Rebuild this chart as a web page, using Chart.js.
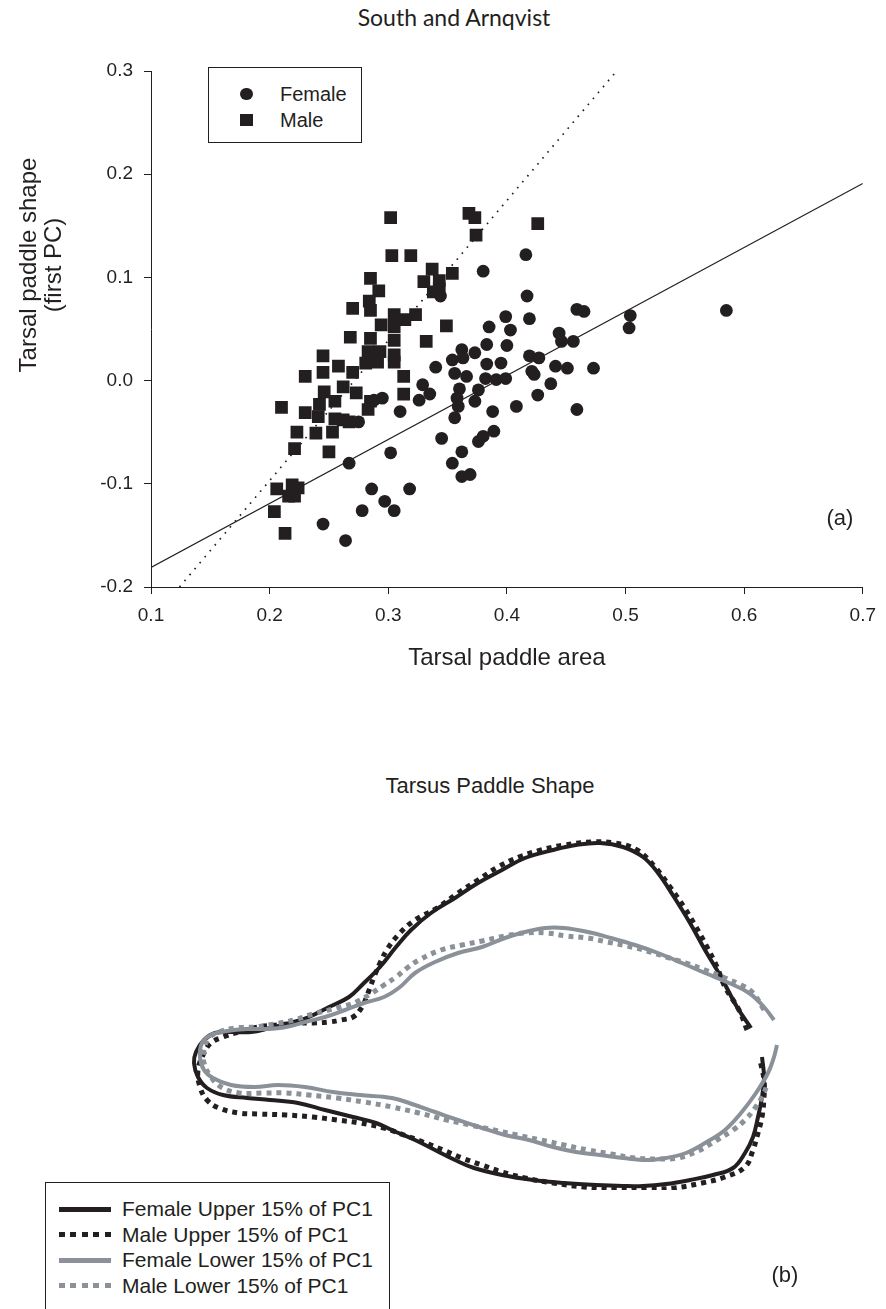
<!DOCTYPE html>
<html>
<head>
<meta charset="utf-8">
<script src="https://cdn.jsdelivr.net/npm/chart.js@4.4.1/dist/chart.umd.min.js"></script>
<style>
html,body{margin:0;padding:0;background:#ffffff;}
body{width:886px;height:1309px;position:relative;overflow:hidden;font-family:"Liberation Sans",Arial,sans-serif;color:#231f20;}
.abs{position:absolute;white-space:nowrap;}
canvas{position:absolute;left:0;}
#legA{position:absolute;left:208px;top:67px;width:154px;height:76px;border:1px solid #231f20;box-sizing:border-box;background:#fff;}
#legB{position:absolute;left:45px;top:1182px;width:345px;height:160px;border:1px solid #231f20;box-sizing:border-box;background:#fff;}
.txt{position:absolute;transform:translateY(-50%);white-space:nowrap;}
</style>
</head>
<body>
<div class="abs" id="header" style="left:304px;top:3px;width:300px;text-align:center;font-family:Lato,'Open Sans',sans-serif;font-size:23px;">South and Arnqvist</div>
<canvas id="c1" width="886" height="700" style="top:0px"></canvas>
<div class="abs" id="ytitle" style="left:-109px;top:240px;width:300px;height:50px;line-height:24.5px;text-align:center;font-size:24px;transform:rotate(-90deg);"></div>
<div id="legA"></div>
<div class="abs" id="labA" style="left:800px;top:505px;width:80px;text-align:center;font-size:22px;">(a)</div>
<div class="abs" id="titleB" style="left:290px;top:773px;width:400px;text-align:center;font-size:22px;">Tarsus Paddle Shape</div>
<canvas id="c2" width="886" height="609" style="top:700px"></canvas>
<div id="legB"></div>
<div class="abs" id="labB" style="left:745px;top:1262px;width:80px;text-align:center;font-size:22px;">(b)</div>
<script>
// ---------------- Panel (a) data ----------------
const femaleX = [0.380,0.344,0.416,0.385,0.399,0.362,0.383,0.373,0.354,0.363,0.383,0.395,0.340,0.356,0.366,0.382,0.391,0.399,0.376,0.360,0.329,0.335,0.326,0.358,0.359,0.373,0.388,0.295,0.288,0.310,0.356,0.275,0.345,0.389,0.380,0.376,0.362,0.354,0.302,0.267,0.362,0.369,0.286,0.318,0.297,0.278,0.305,0.245,0.264,0.417,0.459,0.465,0.419,0.504,0.503,0.403,0.444,0.446,0.456,0.400,0.419,0.427,0.441,0.451,0.473,0.421,0.423,0.437,0.426,0.408,0.459,0.585];
const femaleY = [0.106,0.082,0.122,0.052,0.062,0.030,0.035,0.027,0.020,0.022,0.016,0.017,0.013,0.007,0.004,0.002,0.001,0.002,-0.009,-0.008,-0.004,-0.013,-0.019,-0.017,-0.025,-0.020,-0.030,-0.017,-0.019,-0.030,-0.036,-0.040,-0.056,-0.049,-0.054,-0.059,-0.069,-0.080,-0.070,-0.080,-0.093,-0.091,-0.105,-0.105,-0.117,-0.126,-0.126,-0.139,-0.155,0.082,0.069,0.067,0.060,0.063,0.051,0.049,0.046,0.038,0.038,0.034,0.024,0.022,0.014,0.012,0.012,0.009,0.006,-0.003,-0.014,-0.025,-0.028,0.068];
const maleX = [0.302,0.368,0.373,0.374,0.426,0.303,0.319,0.337,0.354,0.285,0.330,0.343,0.292,0.338,0.343,0.284,0.285,0.270,0.305,0.323,0.314,0.294,0.349,0.305,0.268,0.285,0.305,0.332,0.283,0.293,0.305,0.291,0.281,0.305,0.258,0.245,0.270,0.313,0.262,0.273,0.313,0.255,0.283,0.255,0.262,0.267,0.253,0.250,0.230,0.245,0.210,0.230,0.242,0.246,0.241,0.285,0.223,0.239,0.221,0.206,0.219,0.224,0.216,0.221,0.204,0.213];
const maleY = [0.158,0.162,0.158,0.141,0.152,0.121,0.121,0.108,0.104,0.099,0.096,0.097,0.087,0.086,0.089,0.077,0.068,0.070,0.064,0.064,0.059,0.054,0.053,0.052,0.042,0.041,0.039,0.038,0.028,0.028,0.025,0.018,0.017,0.018,0.014,0.024,0.008,0.004,-0.006,-0.012,-0.013,-0.020,-0.028,-0.037,-0.038,-0.040,-0.050,-0.069,0.004,0.008,-0.026,-0.031,-0.023,-0.011,-0.035,-0.020,-0.050,-0.051,-0.066,-0.105,-0.101,-0.104,-0.112,-0.112,-0.127,-0.148];
const femaleFitX = [0.1, 0.7];
const femaleFitY = [-0.181, 0.191];
const maleFitX = [0.124, 0.4925];
const maleFitY = [-0.2, 0.3];
const xTickValues = [0.1,0.2,0.3,0.4,0.5,0.6,0.7];
const xTickLabels = ['0.1','0.2','0.3','0.4','0.5','0.6','0.7'];
const yTickValues = [-0.2,-0.1,0.0,0.1,0.2,0.3];
const yTickLabels = ['-0.2','-0.1','0.0','0.1','0.2','0.3'];
const seriesA = ['Female','Male'];
const xTitle = 'Tarsal paddle area';
const yTitle = ['Tarsal paddle shape','(first PC)'];

// ---------------- Panel (b) data (outline coordinates) ----------------
const femaleUpperX = [5.71,5.57,5.41,5.25,5.10,4.94,4.78,4.63,4.43,4.20,3.96,3.73,3.45,3.22,2.98,2.75,2.51,2.31,2.16,2.00,1.84,1.69,1.49,1.29,1.10,0.90,0.71,0.51,0.35,0.24,0.16,0.14,0.18,0.27,0.43,0.67,0.90,1.18,1.45,1.73,1.96,2.16,2.35,2.55,2.75,2.94,3.22,3.53,3.84,4.16,4.43,4.63,4.86,5.10,5.33,5.53,5.65,5.73,5.78,5.82,5.84,5.82];
const femaleUpperY = [1.62,1.83,2.13,2.40,2.67,2.93,3.17,3.33,3.43,3.47,3.45,3.40,3.32,3.20,3.07,2.92,2.77,2.60,2.43,2.23,2.07,1.93,1.83,1.73,1.67,1.62,1.58,1.58,1.57,1.50,1.38,1.27,1.13,1.02,0.95,0.92,0.90,0.87,0.80,0.73,0.67,0.58,0.50,0.40,0.30,0.22,0.15,0.10,0.07,0.05,0.04,0.04,0.06,0.10,0.15,0.22,0.37,0.53,0.73,0.93,1.13,1.33];
const maleUpperX = [5.67,5.59,5.45,5.37,5.27,5.16,5.04,4.90,4.75,4.57,4.35,4.12,3.84,3.61,3.39,3.18,2.98,2.78,2.57,2.35,2.20,2.08,2.00,1.94,1.88,1.82,1.73,1.61,1.49,1.33,1.18,0.98,0.78,0.59,0.43,0.31,0.24,0.18,0.20,0.27,0.39,0.59,0.78,1.06,1.33,1.57,1.80,2.04,2.24,2.43,2.63,2.82,3.02,3.22,3.45,3.73,4.04,4.35,4.67,4.94,5.22,5.45,5.65,5.73,5.78,5.82,5.84,5.84,5.80];
const maleUpperY = [1.60,1.80,2.03,2.23,2.43,2.63,2.83,3.03,3.23,3.40,3.47,3.48,3.45,3.40,3.33,3.23,3.10,2.97,2.82,2.70,2.57,2.42,2.27,2.13,1.97,1.83,1.73,1.70,1.68,1.67,1.67,1.65,1.63,1.58,1.53,1.47,1.37,1.20,1.03,0.90,0.82,0.77,0.76,0.75,0.73,0.70,0.67,0.62,0.55,0.48,0.40,0.32,0.25,0.18,0.12,0.07,0.03,0.01,0.01,0.02,0.07,0.13,0.23,0.40,0.57,0.73,0.93,1.10,1.30];
const femaleLowerX = [5.94,5.84,5.69,5.49,5.25,5.02,4.78,4.55,4.31,4.08,3.84,3.65,3.45,3.25,3.02,2.78,2.55,2.35,2.20,2.04,1.84,1.65,1.45,1.25,1.06,0.86,0.67,0.47,0.31,0.22,0.20,0.24,0.33,0.51,0.75,0.98,1.25,1.53,1.80,2.12,2.35,2.55,2.78,3.02,3.25,3.49,3.73,3.96,4.20,4.43,4.67,4.86,5.06,5.25,5.45,5.61,5.76,5.88,5.94,5.97];
const femaleLowerY = [1.70,1.83,1.97,2.07,2.17,2.27,2.37,2.45,2.52,2.58,2.62,2.62,2.58,2.52,2.43,2.37,2.28,2.17,2.03,1.93,1.87,1.80,1.73,1.68,1.63,1.61,1.61,1.59,1.55,1.47,1.33,1.20,1.12,1.05,1.03,1.05,1.03,0.98,0.95,0.92,0.85,0.78,0.70,0.62,0.55,0.50,0.43,0.38,0.35,0.32,0.30,0.32,0.37,0.47,0.60,0.77,0.97,1.17,1.33,1.45];
const maleLowerX = [5.84,5.73,5.61,5.45,5.25,5.06,4.86,4.67,4.47,4.27,4.08,3.86,3.67,3.45,3.25,3.02,2.82,2.61,2.39,2.27,2.16,2.04,1.92,1.76,1.57,1.33,1.14,0.94,0.75,0.55,0.39,0.29,0.24,0.24,0.31,0.41,0.59,0.82,1.06,1.29,1.57,1.84,2.12,2.39,2.67,2.90,3.14,3.37,3.61,3.84,4.08,4.31,4.55,4.78,4.98,5.18,5.37,5.53,5.65,5.75,5.82,5.88];
const maleLowerY = [1.80,1.97,2.05,2.12,2.20,2.27,2.33,2.39,2.44,2.48,2.52,2.54,2.57,2.57,2.54,2.49,2.45,2.40,2.30,2.22,2.13,2.05,1.97,1.88,1.82,1.76,1.70,1.66,1.63,1.62,1.58,1.52,1.40,1.27,1.13,1.03,0.97,0.97,0.97,0.95,0.92,0.88,0.83,0.77,0.70,0.65,0.60,0.55,0.50,0.45,0.40,0.36,0.32,0.31,0.32,0.39,0.50,0.60,0.70,0.82,0.93,1.07];
const seriesB = ['Female Upper 15% of PC1','Male Upper 15% of PC1','Female Lower 15% of PC1','Male Lower 15% of PC1'];

// ---------------- styling ----------------
const INK = '#231f20';
const GRAY = '#8a9198';
const FONT = '"Liberation Sans", Arial, sans-serif';
const toPts = (xs, ys) => xs.map((x, i) => ({x: x, y: ys[i]}));

document.getElementById('ytitle').innerHTML = yTitle.map(t => '<div>' + t + '</div>').join('');

// ---------------- Chart (a) ----------------
new Chart(document.getElementById('c1'), {
  type: 'scatter',
  data: {
    datasets: [
      {label: seriesA[0], data: toPts(femaleX, femaleY), pointStyle: 'circle', pointRadius: 6.4, pointHoverRadius: 6.4, backgroundColor: INK, borderWidth: 0, order: 1},
      {label: seriesA[1], data: toPts(maleX, maleY), pointStyle: 'rect', pointRadius: 9, pointHoverRadius: 9, backgroundColor: INK, borderWidth: 0, order: 1},
      {label: 'Female fit', data: toPts(femaleFitX, femaleFitY), showLine: true, pointRadius: 0, borderColor: INK, borderWidth: 1.3, order: 3},
      {label: 'Male fit', data: toPts(maleFitX, maleFitY), showLine: true, pointRadius: 0, borderColor: INK, borderWidth: 1.7, borderDash: [1.6, 6.2], order: 3}
    ]
  },
  options: {
    responsive: false, animation: false, devicePixelRatio: 1,
    layout: {padding: {left: 0, right: 15, top: 71, bottom: 0}},
    plugins: {legend: {display: false}, tooltip: {enabled: false}},
    scales: {
      x: {
        type: 'linear', min: 0.1, max: 0.7,
        afterBuildTicks: s => { s.ticks = xTickValues.map(v => ({value: v})); },
        afterFit: s => { s.height = 113; },
        ticks: {callback: (v, i) => xTickLabels[i], font: {size: 19, family: FONT}, color: INK, padding: 10, maxRotation: 0, autoSkip: false},
        grid: {display: true, drawOnChartArea: false, drawTicks: true, tickLength: 7, color: INK, lineWidth: 1},
        border: {display: true, color: INK, width: 1},
        title: {display: true, text: xTitle, font: {size: 24, family: FONT}, color: INK, padding: {top: 0, bottom: 27}}
      },
      y: {
        type: 'linear', min: -0.2, max: 0.3,
        afterBuildTicks: s => { s.ticks = yTickValues.map(v => ({value: v})); },
        afterFit: s => { s.width = 151; },
        ticks: {callback: (v, i) => yTickLabels[i], font: {size: 19, family: FONT}, color: INK, padding: 11, autoSkip: false},
        grid: {display: true, drawOnChartArea: false, drawTicks: true, tickLength: 7, color: INK, lineWidth: 1},
        border: {display: true, color: INK, width: 1}
      }
    }
  }
});

// legend (a)
(function () {
  const box = document.getElementById('legA');
  const rows = [{y: 26, shape: 'circle'}, {y: 52, shape: 'square'}];
  seriesA.forEach((name, i) => {
    const r = rows[i];
    const m = document.createElement('div');
    m.style.position = 'absolute';
    m.style.background = INK;
    m.style.width = '12.6px'; m.style.height = '12.6px';
    if (r.shape === 'circle') m.style.borderRadius = '50%';
    m.style.left = (37.7 - 6.3) + 'px'; m.style.top = (r.y - 6.3) + 'px';
    box.appendChild(m);
    const t = document.createElement('div');
    t.className = 'txt';
    t.style.left = '71px'; t.style.top = r.y + 'px'; t.style.fontSize = '20px';
    t.textContent = name;
    box.appendChild(t);
  });
})();

// ---------------- Chart (b) ----------------
new Chart(document.getElementById('c2'), {
  type: 'scatter',
  data: {
    datasets: [
      {label: seriesB[0], data: toPts(femaleUpperX, femaleUpperY), showLine: true, pointRadius: 0, borderColor: INK, borderWidth: 4, tension: 0.4, order: 4},
      {label: seriesB[1], data: toPts(maleUpperX, maleUpperY), showLine: true, pointRadius: 0, borderColor: INK, borderWidth: 5, borderDash: [5, 5], tension: 0.4, order: 3},
      {label: seriesB[2], data: toPts(femaleLowerX, femaleLowerY), showLine: true, pointRadius: 0, borderColor: GRAY, borderWidth: 4, tension: 0.4, order: 2},
      {label: seriesB[3], data: toPts(maleLowerX, maleLowerY), showLine: true, pointRadius: 0, borderColor: GRAY, borderWidth: 5, borderDash: [5, 5], tension: 0.4, order: 1}
    ]
  },
  options: {
    responsive: false, animation: false, devicePixelRatio: 1,
    layout: {padding: {left: 180, right: 96, top: 130, bottom: 119}},
    plugins: {legend: {display: false}, tooltip: {enabled: false}},
    elements: {line: {borderCapStyle: 'butt', borderJoinStyle: 'round'}},
    scales: {
      x: {type: 'linear', display: false, min: 0, max: 6.1},
      y: {type: 'linear', display: false, min: 0, max: 3.6}
    }
  }
});

// legend (b)
(function () {
  const box = document.getElementById('legB');
  const styles = [
    {c: INK, dotted: false}, {c: INK, dotted: true},
    {c: GRAY, dotted: false}, {c: GRAY, dotted: true}
  ];
  const rowsY = [26, 51.5, 77, 102.5];
  seriesB.forEach((name, i) => {
    const s = styles[i];
    const l = document.createElement('div');
    l.style.position = 'absolute';
    l.style.left = '13px'; l.style.width = '52px';
    l.style.top = (rowsY[i] - 2.5) + 'px'; l.style.height = '5px';
    l.style.background = s.dotted
      ? 'repeating-linear-gradient(to right,' + s.c + ' 0px,' + s.c + ' 6px,transparent 6px,transparent 11.5px)'
      : s.c;
    box.appendChild(l);
    const t = document.createElement('div');
    t.className = 'txt';
    t.style.left = '76px'; t.style.top = rowsY[i] + 'px'; t.style.fontSize = '21px';
    t.textContent = name;
    box.appendChild(t);
  });
})();
</script>
</body>
</html>
